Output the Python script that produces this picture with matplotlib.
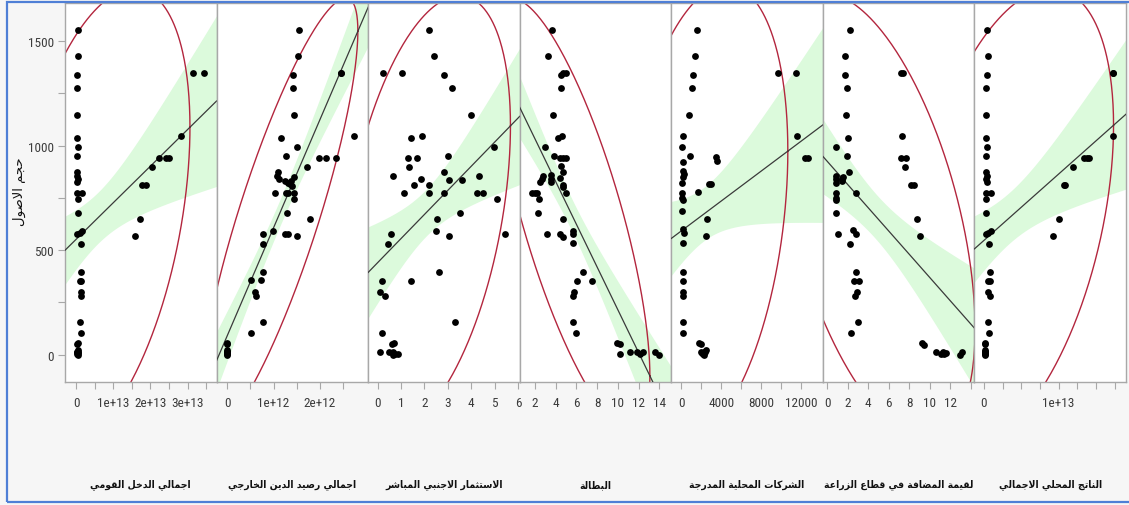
import numpy as np
import matplotlib
matplotlib.use("Agg")
import matplotlib.pyplot as plt
from matplotlib import font_manager
from matplotlib.patches import Rectangle

# ---------------------------------------------------------------- data
asset_label = "حجم الاصول"

gni_title = "اجمالي الدخل القومي"
gni_x = [0.04e13, 0.04e13, 0.03e13, 0.01e13, 0.01e13, 0.01e13, 0.04e13, 0.01e13, 0.01e13, 0.03e13,
         0.04e13, 0.01e13, 0.03e13, 0.15e13, 0.04e13, 0.04e13, 0.02e13, 0.10e13, 0.15e13, 0.13e13,
         0.13e13, 0.10e13, 0.13e13, 0.12e13, 0.13e13, 0.11e13, 0.13e13,
         0.04e13, 0.03e13, 0.04e13, 0.03e13, 0.04e13, 0.03e13, 0.04e13, 0.03e13, 0.04e13,
         3.15e13, 3.44e13, 2.83e13, 2.22e13, 2.43e13, 2.49e13, 2.04e13, 1.78e13, 1.87e13,
         1.72e13, 1.59e13]
gni_y = [1552, 1427, 1338, 1274, 1147, 1037, 992, 952, 872, 856, 840, 827, 776, 776, 744, 680,
         576, 584, 592, 531, 395, 355, 355, 299, 280, 157, 104,
         56, 51, 24, 13, 13, 13, 8, 3, 0,
         1350, 1350, 1045, 939, 939, 939, 899, 813, 813, 651, 566]
gni_ticks = [0, 1e13, 2e13, 3e13]
gni_ticklabels = ["0", "1e+13", "2e+13", "3e+13"]
gni_minor = [0.5e13, 1.5e13, 2.5e13, 3.5e13]

debt_title = "اجمالي رصيد الدين الخارجي"
debt_x = [1.55e12, 1.53e12, 1.42e12, 1.42e12, 1.45e12, 1.16e12, 1.51e12, 1.27e12, 1.98e12, 2.13e12,
          2.34e12, 1.72e12, 1.10e12, 1.08e12, 1.12e12, 1.25e12, 1.32e12, 1.36e12, 1.40e12, 1.43e12,
          1.38e12, 1.03e12, 1.27e12, 1.32e12, 1.43e12, 1.43e12, 1.29e12, 1.78e12, 0.98e12, 0.78e12,
          1.25e12, 1.32e12, 1.51e12, 0.78e12, 2.45e12, 2.45e12, 2.74e12, 0.78e12, 0.51e12, 0.73e12,
          0.59e12, 0.61e12, 0.77e12, 0.51e12,
          0.0, 0.0, 0.0, 0.0, 0.0, 0.0, 0.0, 0.0, 0.0]
debt_y = [1552, 1427, 1338, 1274, 1147, 1037, 992, 952, 939, 939, 939, 899, 872, 856, 843,
          832, 824, 816, 808, 848, 832, 776, 776, 776, 776, 744, 680, 651, 592, 576, 576,
          576, 568, 528, 1350, 1350, 1045, 395, 357, 357, 299, 280, 158, 104,
          56, 51, 24, 13, 13, 13, 8, 3, 0]
debt_ticks = [0, 1e12, 2e12]
debt_ticklabels = ["0", "1e+12", "2e+12"]
debt_minor = [0.5e12, 1.5e12, 2.5e12]

fdi_title = "الاستثمار الاجنبي المباشر"
fdi_x = [0.09, 0.19, 0.47, 0.61, 0.69, 0.64, 0.73, 0.87, 0.66, 0.11, 0.20, 0.34, 0.44, 0.59, 0.64,
         0.23, 1.04, 1.13, 1.30, 1.36, 1.44, 1.41, 1.54, 1.70, 1.86, 1.91, 2.19, 2.19, 2.19,
         2.41, 2.53, 2.51, 2.63, 2.83, 2.83, 2.83, 3.03, 3.07, 3.04, 3.20, 3.30, 3.51, 3.60,
         4.00, 4.24, 4.51, 4.34, 4.96, 5.09, 5.43]
fdi_y = [13, 104, 13, 51, 56, 0, 3, 3, 13, 299, 355, 280, 528, 576, 856, 1350, 1350, 776, 939,
         899, 1037, 355, 813, 939, 843, 1045, 1552, 813, 776, 1427, 648, 592, 395, 1338, 872,
         776, 952, 835, 566, 1274, 157, 680, 835, 1147, 776, 776, 853, 992, 744, 576]
fdi_ticks = [0, 1, 2, 3, 4, 5, 6]
fdi_ticklabels = ["0", "1", "2", "3", "4", "5", "6"]
fdi_minor = []

unemp_title = "البطالة"
unemp_x = [3.60, 3.28, 4.47, 4.73, 4.95, 4.47, 3.73, 4.21, 4.57, 2.93, 3.83, 4.41, 4.70, 5.02,
           4.54, 4.73, 2.81, 2.65, 2.49, 3.51, 3.57, 3.51, 4.41, 4.70, 4.70, 5.00, 1.75, 2.00,
           2.16, 2.38, 2.29, 4.70, 3.19, 4.38, 4.70, 5.65, 5.65, 5.65, 6.66, 6.07, 7.45, 5.79,
           5.66, 5.63, 5.92, 9.86, 10.18, 10.18, 11.20, 11.85, 12.10, 12.40, 13.55, 14.00]
unemp_y = [1552, 1427, 1339, 1349, 1349, 1275, 1147, 1035, 1045, 992, 952, 941, 941, 941,
           901, 872, 856, 843, 827, 859, 843, 827, 846, 813, 803, 776, 773, 773, 773, 744,
           680, 651, 579, 579, 565, 592, 576, 533, 395, 355, 355, 299, 280, 157, 104, 56,
           51, 3, 13, 13, 3, 13, 13, 0]
unemp_ticks = [2, 4, 6, 8, 10, 12, 14]
unemp_ticklabels = ["2", "4", "6", "8", "10", "12", "14"]
unemp_minor = []

listed_title = "الشركات المحلية المدرجة"
listed_x = [1600, 1400, 1160, 1060, 760, 160, 90, 900, 160, 160, 330, 160, 90, 90, 1660, 90,
            160, 90, 160, 330, 160, 2600, 2500, 2830, 3000, 3500, 3560, 160, 160, 160, 200,
            160, 160, 1800, 2000, 2200, 2300, 2500, 2100, 2250, 1950, 2400,
            9670, 11430, 11600, 12330, 12670]
listed_y = [1552, 1427, 1338, 1274, 1147, 1048, 992, 952, 920, 880, 864, 848, 824, 776, 779,
            752, 741, 688, 600, 584, 536, 651, 568, 816, 816, 944, 928, 395, 355, 299, 280,
            157, 104, 56, 13, 3, 13, 24, 8, 0, 51, 13,
            1350, 1350, 1045, 939, 939]
listed_ticks = [0, 4000, 8000, 12000]
listed_ticklabels = ["0", "4000", "8000", "12000"]
listed_minor = [2000, 6000, 10000]

agri_title = "لقيمة المضافة في قطاع الزراعة"
agri_x = [2.20, 1.75, 1.72, 1.94, 1.88, 2.04, 0.82, 1.91, 2.14, 0.84, 0.84, 0.84, 1.40, 1.55,
          1.46, 2.85, 0.84, 0.84, 0.84, 0.82, 1.07, 2.47, 2.85, 2.27, 2.78, 2.62, 3.07, 2.91,
          2.69, 3.04, 2.36, 7.15, 7.38, 7.31, 7.15, 7.70, 7.54, 8.19, 8.45, 8.70, 9.00, 9.22,
          9.42, 10.60, 11.10, 11.36, 11.52, 12.88, 13.10, 11.30]
agri_y = [1552, 1427, 1338, 1274, 1147, 1035, 992, 952, 872, 856, 840, 824, 840, 848, 832,
          776, 776, 752, 741, 680, 576, 595, 576, 528, 395, 355, 355, 299, 280, 157, 104,
          1350, 1350, 1045, 939, 939, 899, 813, 813, 651, 566, 56, 48, 13, 3, 3, 8, 0, 13, 13]
agri_ticks = [0, 2, 4, 6, 8, 10, 12]
agri_ticklabels = ["0", "2", "4", "6", "8", "10", "12"]
agri_minor = [14]

gdp_title = "الناتج المحلي الاجمالي"
gdp_x = [0.04e13, 0.05e13, 0.04e13, 0.03e13, 0.03e13, 0.03e13, 0.04e13, 0.03e13, 0.03e13, 0.04e13,
         0.03e13, 0.04e13, 0.03e13, 0.10e13, 0.03e13, 0.03e13, 0.03e13, 0.06e13, 0.10e13, 0.07e13,
         0.08e13, 0.05e13, 0.08e13, 0.06e13, 0.08e13, 0.05e13, 0.07e13,
         0.01e13, 0.02e13, 0.01e13, 0.02e13, 0.01e13, 0.02e13, 0.01e13, 0.02e13, 0.01e13,
         1.73e13, 1.73e13, 1.73e13, 1.34e13, 1.38e13, 1.41e13, 1.19e13, 1.07e13, 1.09e13,
         1.01e13, 0.92e13]
gdp_y = [1552, 1427, 1338, 1274, 1147, 1037, 992, 952, 872, 856, 840, 827, 776, 776, 744, 680,
         576, 584, 592, 531, 395, 355, 355, 299, 280, 157, 104,
         56, 51, 24, 13, 13, 13, 8, 3, 0,
         1350, 1350, 1045, 939, 939, 939, 899, 813, 813, 651, 566]
gdp_ticks = [0, 1e13]
gdp_ticklabels = ["0", "1e+13"]
gdp_minor = [0.25e13, 0.5e13, 0.75e13, 1.25e13, 1.5e13, 1.75e13]

y_ticks = [0, 500, 1000, 1500]
y_ticklabels = ["0", "500", "1000", "1500"]
y_minor = [250, 750, 1250]

# ---------------------------------------------------------------- helpers
def _arabic_table():
    dual = {'ب': 0xFE8F, 'ت': 0xFE95, 'ث': 0xFE99, 'ج': 0xFE9D, 'ح': 0xFEA1, 'خ': 0xFEA5,
            'س': 0xFEB1, 'ش': 0xFEB5, 'ص': 0xFEB9, 'ض': 0xFEBD, 'ط': 0xFEC1, 'ظ': 0xFEC5,
            'ع': 0xFEC9, 'غ': 0xFECD, 'ف': 0xFED1, 'ق': 0xFED5, 'ك': 0xFED9, 'ل': 0xFEDD,
            'م': 0xFEE1, 'ن': 0xFEE5, 'ه': 0xFEE9, 'ي': 0xFEF1}
    right = {'ا': 0xFE8D, 'أ': 0xFE83, 'إ': 0xFE87, 'آ': 0xFE81, 'ة': 0xFE93, 'د': 0xFEA9,
             'ذ': 0xFEAB, 'ر': 0xFEAD, 'ز': 0xFEAF, 'و': 0xFEED, 'ى': 0xFEEF,
             'لا': 0xFEFB, 'لأ': 0xFEF7, 'لإ': 0xFEF9, 'لآ': 0xFEF5}
    table = {}
    for ch, b in dual.items():
        table[ch] = (chr(b), chr(b + 1), chr(b + 2), chr(b + 3))
    for ch, b in right.items():
        table[ch] = (chr(b), chr(b + 1), None, None)
    return table


_FORMS = _arabic_table()


def shape_arabic(text):
    """Contextual letter forms + right-to-left visual order for plain Arabic text."""
    units, i = [], 0
    while i < len(text):
        if text[i] == 'ل' and i + 1 < len(text) and text[i + 1] in 'اأإآ':
            units.append(text[i:i + 2])
            i += 2
        else:
            units.append(text[i])
            i += 1
    out = []
    for k, u in enumerate(units):
        forms = _FORMS.get(u)
        if forms is None:
            out.append(u)
            continue
        prev = units[k - 1] if k > 0 else None
        nxt = units[k + 1] if k + 1 < len(units) else None
        jp = prev in _FORMS and _FORMS[prev][2] is not None
        jn = forms[2] is not None and nxt in _FORMS
        if jp and jn:
            out.append(forms[3])
        elif jp:
            out.append(forms[1])
        elif jn:
            out.append(forms[2])
        else:
            out.append(forms[0])
    return ''.join(reversed(out))


def t_975(df):
    z = 1.959964
    return (z + (z ** 3 + z) / (4 * df)
            + (5 * z ** 5 + 16 * z ** 3 + 3 * z) / (96 * df ** 2))


def fit_band(x, y, xs):
    n = len(x)
    xm, ym = x.mean(), y.mean()
    sxx = np.sum((x - xm) ** 2)
    b = np.sum((x - xm) * (y - ym)) / sxx
    a = ym - b * xm
    resid = y - (a + b * x)
    s = np.sqrt(np.sum(resid ** 2) / (n - 2))
    yhat = a + b * xs
    half = t_975(n - 2) * s * np.sqrt(1.0 / n + (xs - xm) ** 2 / sxx)
    return yhat, yhat - half, yhat + half


def density_ellipse(x, y, coverage):
    mx, my = x.mean(), y.mean()
    sx, sy = x.std(ddof=1), y.std(ddof=1)
    rho = np.corrcoef(x, y)[0, 1]
    r = np.sqrt(-2.0 * np.log(1.0 - coverage))
    t = np.linspace(0, 2 * np.pi, 500)
    ex = mx + r * sx * np.cos(t)
    ey = my + r * sy * (rho * np.cos(t) + np.sqrt(1 - rho ** 2) * np.sin(t))
    return ex, ey


# ---------------------------------------------------------------- styling
names = {f.name for f in font_manager.fontManager.ttflist}
num_font = 'DejaVu Sans'
for cand in ['Liberation Sans Narrow', 'Roboto Condensed', 'Open Sans Condensed', 'Roboto']:
    if cand in names:
        num_font = cand
        break
arabic_font = 'DejaVu Sans'

W, H = 1129, 506
fig = plt.figure(figsize=(W / 100, H / 100), dpi=100)
fig.patch.set_facecolor('#f6f6f6')
fig.add_artist(Rectangle((7 / W, 1 - 503 / H), 1.2, (503 - 3) / H, transform=fig.transFigure,
                         fill=False, edgecolor='#4f7fd6', linewidth=1.6))

panels = [
    (gni_x, gni_y, gni_title, gni_ticks, gni_ticklabels, gni_minor, (-0.30e13, 3.78e13)),
    (debt_x, debt_y, debt_title, debt_ticks, debt_ticklabels, debt_minor, (-0.23e12, 3.04e12)),
    (fdi_x, fdi_y, fdi_title, fdi_ticks, fdi_ticklabels, fdi_minor, (-0.40, 6.07)),
    (unemp_x, unemp_y, unemp_title, unemp_ticks, unemp_ticklabels, unemp_minor, (0.53, 15.14)),
    (listed_x, listed_y, listed_title, listed_ticks, listed_ticklabels, listed_minor, (-970, 14130)),
    (agri_x, agri_y, agri_title, agri_ticks, agri_ticklabels, agri_minor, (-0.42, 14.33)),
    (gdp_x, gdp_y, gdp_title, gdp_ticks, gdp_ticklabels, gdp_minor, (-0.126e13, 1.90e13)),
]

left_px, right_px, top_px, bottom_px = 65, 1126, 4, 383.3
pw = (right_px - left_px) / len(panels)
ylim = (-132, 1683)
frame_col = '#a8a8a8'
text_col = '#3c3c3c'

for i, (xv, yv, title, ticks, ticklabels, minor, xlim) in enumerate(panels):
    x = np.asarray(xv, dtype=float)
    y = np.asarray(yv, dtype=float)
    x0 = left_px + i * pw
    ax = fig.add_axes([x0 / W, 1 - bottom_px / H, pw / W, (bottom_px - top_px) / H])
    ax.set_facecolor('white')
    ax.set_xlim(*xlim)
    ax.set_ylim(*ylim)

    xs = np.linspace(xlim[0], xlim[1], 300)
    yhat, lo, hi = fit_band(x, y, xs)
    ax.fill_between(xs, lo, hi, color='#dcfadc', linewidth=0, zorder=1)
    ex, ey = density_ellipse(x, y, 0.95)
    ax.plot(ex, ey, color='#b3263e', linewidth=1.0, zorder=2)
    ax.plot(xs, yhat, color='#3a3a3a', linewidth=0.9, zorder=3)
    ax.scatter(x, y, s=24, color='black', linewidths=0, zorder=4)

    for sp in ax.spines.values():
        sp.set_color(frame_col)
        sp.set_linewidth(1.0)

    ax.set_xticks(ticks)
    ax.set_xticklabels(ticklabels, fontfamily=num_font, fontsize=9.5, color=text_col)
    ax.set_xticks(minor, minor=True)
    ax.tick_params(axis='x', which='both', direction='out', length=5, width=0.8,
                   color=frame_col, pad=5)

    if i == 0:
        ax.set_yticks(y_ticks)
        ax.set_yticklabels(y_ticklabels, fontfamily=num_font, fontsize=9.5, color=text_col)
        ax.set_yticks(y_minor, minor=True)
        ax.tick_params(axis='y', which='both', direction='out', length=5, width=0.8,
                       color=frame_col, pad=3)
    else:
        ax.set_yticks([])
        ax.set_yticks([], minor=True)

    fig.text((x0 + pw / 2) / W, 1 - 485 / H, shape_arabic(title), ha='center', va='center',
             fontsize=7.5, fontweight='bold', fontfamily=arabic_font, fontstretch='condensed',
             color='#111111')

fig.text(19 / W, 1 - 192 / H, shape_arabic(asset_label), rotation=90, ha='center', va='center',
         fontsize=9.5, fontfamily=arabic_font, color='#111111')

fig.savefig('out.png', dpi=100, facecolor=fig.get_facecolor())
